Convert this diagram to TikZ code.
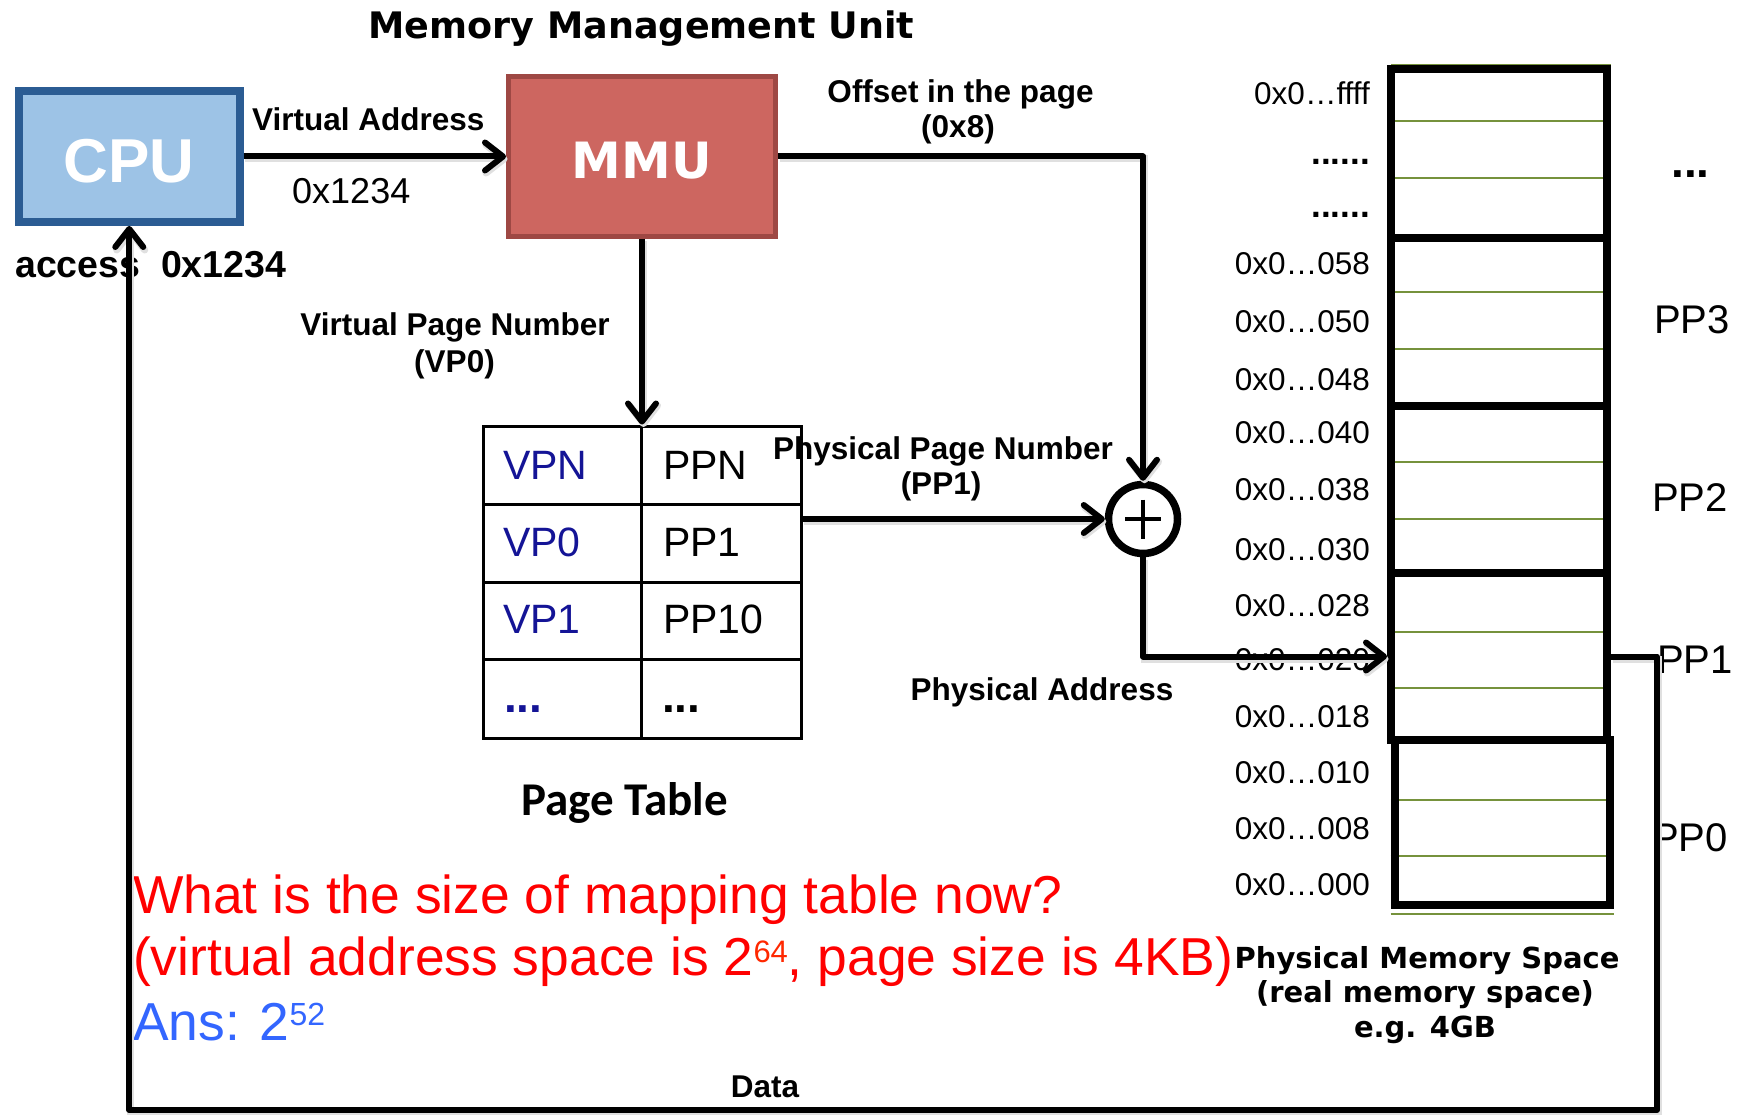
\documentclass[tikz,border=0pt]{standalone}
\usepackage{fontspec}
\setmainfont{Liberation Sans}
\newfontfamily\verdanalike{DejaVu Sans}
\newfontfamily\calibrilike{Carlito}
\usetikzlibrary{arrows.meta}
\pgfdeclarelayer{background}
\pgfsetlayers{background,main}

\definecolor{cpufill}{RGB}{157,195,230}
\definecolor{cpuedge}{RGB}{43,92,147}
\definecolor{mmufill}{RGB}{205,102,96}
\definecolor{mmuedge}{RGB}{158,72,68}
\definecolor{slotolive}{RGB}{118,146,60}
\definecolor{vpnblue}{RGB}{20,20,150}
\definecolor{ansblue}{RGB}{51,102,255}
\definecolor{supred}{RGB}{255,40,0}

\newcommand\pxsize[1]{\fontsize{#1}{#1}\selectfont}

\begin{document}
\begin{tikzpicture}[x=1pt,y=-1pt,
  lbl/.style={inner sep=0pt, font=\bfseries\pxsize{31.5}},
  addr/.style={inner sep=0pt, font=\pxsize{31.5}, anchor=base east},
  pplbl/.style={inner sep=0pt, font=\pxsize{40}, anchor=base west},
  ptcell/.style={draw, line width=3pt, minimum height=78pt},
  celltext/.style={inner sep=0pt, font=\pxsize{41}, anchor=base west},
  pagebox/.style={draw, line width=8pt, minimum width=216pt},
  slotrule/.style={draw=slotolive, line width=2pt},
  softshadow/.style={preaction={draw=black!12, line width=7pt,
      transform canvas={shift={(1.5pt,-2.5pt)}}}},
  wire/.style={line width=6pt, line join=round, softshadow},
  arr/.style={wire, -{Straight Barb[length=18pt, width=28pt, round]}},
  redtext/.style={inner sep=0pt, font=\pxsize{53.4}, text=red, anchor=base west}
]
\begin{pgfonlayer}{background}
  \fill[white] (0,0) rectangle (1739,1115);
\end{pgfonlayer}
\useasboundingbox (0,0) rectangle (1739,1115);

% ---- title ----
\node[inner sep=0pt, font=\verdanalike\bfseries\pxsize{36.5}, anchor=base] (title) at (641.5,39) {Memory Management Unit};

% ---- CPU and MMU ----
\node[draw=cpuedge, fill=cpufill, line width=8pt, minimum width=220.5pt, minimum height=131pt,
      inner sep=0pt, font=\bfseries\pxsize{62}, text=white, text height=52pt, text depth=0pt] (cpu) at (129.25,156.5) {CPU};
\node[draw=mmuedge, fill=mmufill, line width=5pt, minimum width=267pt, minimum height=160pt,
      inner sep=0pt, font=\verdanalike\bfseries\pxsize{50}, text=white, text height=43.6pt, text depth=0pt] (mmu) at (642,156.5) {MMU};

\node[lbl, anchor=base west] (valbl) at (252,131) {Virtual Address};
\node[inner sep=0pt, font=\pxsize{36}, anchor=base west] (vaval) at (292,204) {0x1234};
\node[inner sep=0pt, font=\bfseries\pxsize{37.5}, anchor=base west] (acclbl) at (15,277) {access~~0x1234};

\node[lbl, anchor=base] (offlbl) at (960.5,103) {Offset in the page};
\node[lbl, anchor=base] (offval) at (958,138) {(0x8)};

\node[lbl, anchor=base] (vpnlbl) at (455,335) {Virtual Page Number};
\node[lbl, anchor=base] (vpnval) at (454.5,372) {(VP0)};

\node[lbl, anchor=base] (ppnlbl) at (943,459) {Physical Page Number};
\node[lbl, anchor=base] (ppnval) at (941,494) {(PP1)};

\node[lbl, anchor=base] (palbl) at (1042,700.5) {Physical Address};

% ---- page table ----
\node[ptcell, minimum width=158pt] (c11) at (562,465) {};
\node[ptcell, minimum width=160pt] (c12) at (721,465) {};
\node[ptcell, minimum width=158pt] (c21) at (562,543) {};
\node[ptcell, minimum width=160pt] (c22) at (721,543) {};
\node[ptcell, minimum width=158pt, minimum height=77pt] (c31) at (562,620.5) {};
\node[ptcell, minimum width=160pt, minimum height=77pt] (c32) at (721,620.5) {};
\node[ptcell, minimum width=158pt, minimum height=79pt] (c41) at (562,698.5) {};
\node[ptcell, minimum width=160pt, minimum height=79pt] (c42) at (721,698.5) {};

\node[celltext, text=vpnblue] (t11) at (503,479) {VPN};
\node[celltext] (t12) at (663,479) {PPN};
\node[celltext, text=vpnblue] (t21) at (503,556) {VP0};
\node[celltext] (t22) at (663,556) {PP1};
\node[celltext, text=vpnblue] (t31) at (503,633) {VP1};
\node[celltext] (t32) at (663,633) {PP10};
\node[celltext, font=\bfseries\pxsize{46}, text=vpnblue] (t41) at (504,712) {...};
\node[celltext, font=\bfseries\pxsize{46}] (t42) at (662,712) {...};

\node[inner sep=0pt, font=\calibrilike\bfseries\pxsize{47}, anchor=base] (ptlbl) at (624.5,815) {Page Table};

% ---- adder ----
\node[circle, draw, line width=7.5pt, minimum size=69pt, inner sep=0pt] (plus) at (1143,519) {};
\draw[line width=4.5pt] ([xshift=-18pt]plus.center) -- ([xshift=18pt]plus.center);
\draw[line width=4.5pt] ([yshift=19.5pt]plus.center) -- ([yshift=-19.5pt]plus.center);

% ---- physical memory ----
\node[pagebox, minimum height=169pt] (pg4) at (1499,153.5) {};
\node[pagebox, minimum height=168pt] (pg3) at (1499,322) {};
\node[pagebox, minimum height=167pt] (pg2) at (1499,489.5) {};
\node[pagebox, minimum height=167pt] (pg1) at (1499,656.5) {};
\node[pagebox, minimum height=165pt, minimum width=215pt] (pg0) at (1502,822.5) {};

\begin{pgfonlayer}{background}
  \foreach \yy in {121,178,292,349,462,519,632,688}
    \draw[slotrule] (pg4.west |- 0,\yy) -- (pg4.east |- 0,\yy);
  \foreach \yy in {800,856}
    \draw[slotrule] (pg0.west |- 0,\yy) -- (pg0.east |- 0,\yy);
  \draw[slotrule] ([xshift=4pt]pg4.north west) -- (pg4.north east);
  \draw[slotrule] ([yshift=-5pt]pg0.south west) -- ([yshift=-5pt]pg0.south east);
\end{pgfonlayer}

\node[addr] (a15) at (1370,105) {0x0…ffff};
\node[addr, font=\bfseries\pxsize{35}] (a14) at (1370,165) {......};
\node[addr, font=\bfseries\pxsize{35}] (a13) at (1370,218) {......};
\node[addr] (a12) at (1370,275) {0x0…058};
\node[addr] (a11) at (1370,332) {0x0…050};
\node[addr] (a10) at (1370,390) {0x0…048};
\node[addr] (a9) at (1370,443) {0x0…040};
\node[addr] (a8) at (1370,500) {0x0…038};
\node[addr] (a7) at (1370,560) {0x0…030};
\node[addr] (a6) at (1370,616) {0x0…028};
\node[addr] (a5) at (1370,670) {0x0…020};
\node[addr] (a4) at (1370,727) {0x0…018};
\node[addr] (a3) at (1370,783) {0x0…010};
\node[addr] (a2) at (1370,839) {0x0…008};
\node[addr] (a1) at (1370,895) {0x0…000};

\node[pplbl, font=\bfseries\pxsize{46}] (ppmore) at (1671,178) {...};
\node[pplbl] (pp3) at (1654,333) {PP3};
\node[pplbl] (pp2) at (1652,511.7) {PP2};
\node[pplbl] (pp1) at (1657,673) {PP1};
\node[pplbl] (pp0) at (1652,851.7) {PP0};

\node[inner sep=0pt, font=\verdanalike\bfseries\pxsize{29}, anchor=base] (pms1) at (1427,968) {Physical Memory Space};
\node[inner sep=0pt, font=\verdanalike\bfseries\pxsize{29}, anchor=base] (pms2) at (1425,1002) {(real memory space)};
\node[inner sep=0pt, font=\verdanalike\bfseries\pxsize{29}, anchor=base] (pms3) at (1425,1037) {e.g. 4GB};

% ---- question ----
\node[redtext] (q1) at (133,913) {What is the size of mapping table now?};
\node[redtext] (q2) at (133,975) {(virtual address space is 2\raisebox{13pt}{\color{supred}\pxsize{31}64}, page size is 4KB)};
\node[redtext, text=ansblue] (q3) at (133,1040) {Ans: 2\raisebox{15pt}{\pxsize{32}52}};

\node[lbl, anchor=base] (datalbl) at (765,1097) {Data};

% ---- connectors ----
\draw[arr] (cpu.east) -- (mmu.west);
\draw[arr] (mmu.east) -| (plus.north);
\draw[arr] (mmu.south) -- (mmu.south |- c11.north);
\draw[arr] (c22.east |- plus.west) -- (plus.west);
\draw[arr] (plus.south) |- (pg1.west);
\draw[arr] (pg1.east) -- ++(46,0) coordinate (dataturn)
  -- (dataturn |- 0,1110) coordinate (datacorner) -| (cpu.south);
\end{tikzpicture}
\end{document}
